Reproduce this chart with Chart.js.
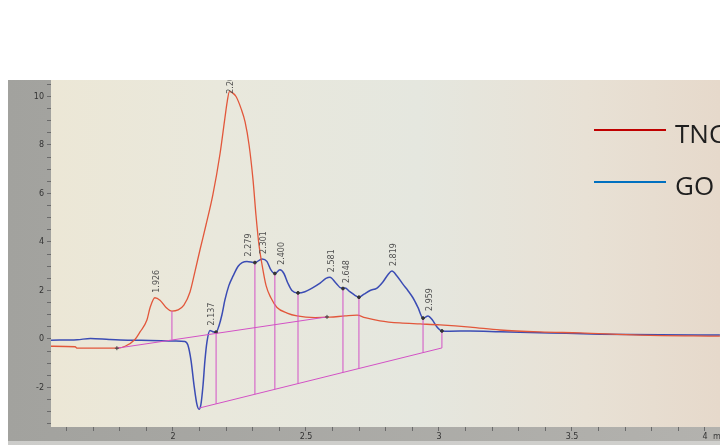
<!DOCTYPE html>
<html>
<head>
<meta charset="utf-8">
<script src="https://cdn.jsdelivr.net/npm/chart.js@4"></script>
<style>
html,body{margin:0;padding:0;background:#fff;overflow:hidden}
#wrap{position:relative;width:720px;height:445px}
canvas{display:block}
</style>
</head>
<body>
<div id="wrap"><canvas id="c" width="720" height="445"></canvas></div>
<script>
// Retention time (min) and detector signal for the TNC trace
const tncTime = [1.541, 1.632, 1.640, 1.726, 1.789, 1.820, 1.857, 1.876, 1.902, 1.914, 1.932, 1.951, 1.974, 1.996, 2.019, 2.041, 2.064, 2.083, 2.102, 2.124, 2.150, 2.177, 2.195, 2.204, 2.212, 2.224, 2.237, 2.256, 2.271, 2.286, 2.301, 2.312, 2.323, 2.335, 2.350, 2.368, 2.391, 2.429, 2.466, 2.534, 2.590, 2.647, 2.692, 2.722, 2.778, 2.853, 2.929, 3.004, 3.117, 3.229, 3.380, 3.530, 3.756, 4.056];
const tncSignal = [-0.30, -0.32, -0.38, -0.38, -0.38, -0.30, -0.02, 0.29, 0.78, 1.30, 1.70, 1.60, 1.30, 1.15, 1.20, 1.40, 1.94, 2.80, 3.70, 4.70, 5.95, 7.65, 9.10, 9.80, 10.20, 10.15, 10.00, 9.50, 8.95, 8.00, 6.55, 5.10, 3.90, 3.05, 2.20, 1.70, 1.30, 1.07, 0.95, 0.88, 0.90, 0.95, 0.98, 0.88, 0.75, 0.66, 0.62, 0.58, 0.49, 0.37, 0.29, 0.25, 0.16, 0.12];

// Retention time (min) and detector signal for the GO trace
const goTime = [1.541, 1.640, 1.690, 1.760, 1.830, 1.914, 2.008, 2.045, 2.056, 2.068, 2.079, 2.090, 2.098, 2.105, 2.113, 2.120, 2.128, 2.139, 2.150, 2.162, 2.173, 2.184, 2.195, 2.210, 2.226, 2.245, 2.260, 2.278, 2.308, 2.335, 2.353, 2.368, 2.383, 2.402, 2.417, 2.432, 2.447, 2.470, 2.496, 2.523, 2.553, 2.575, 2.590, 2.613, 2.632, 2.647, 2.665, 2.684, 2.699, 2.718, 2.741, 2.767, 2.789, 2.808, 2.823, 2.842, 2.865, 2.883, 2.902, 2.921, 2.940, 2.959, 2.974, 2.992, 3.011, 3.041, 3.117, 3.229, 3.417, 3.605, 3.831, 4.056];
const goSignal = [-0.05, -0.03, 0.02, -0.02, -0.05, -0.06, -0.08, -0.10, -0.25, -0.90, -1.90, -2.70, -2.90, -2.70, -1.90, -0.90, -0.10, 0.35, 0.30, 0.28, 0.55, 1.00, 1.60, 2.20, 2.60, 3.00, 3.15, 3.20, 3.15, 3.30, 3.20, 2.85, 2.70, 2.85, 2.70, 2.30, 2.00, 1.90, 1.95, 2.10, 2.30, 2.50, 2.55, 2.30, 2.10, 2.10, 1.95, 1.80, 1.72, 1.85, 2.00, 2.10, 2.35, 2.65, 2.80, 2.60, 2.25, 2.00, 1.70, 1.30, 0.86, 0.95, 0.80, 0.50, 0.33, 0.32, 0.33, 0.30, 0.25, 0.20, 0.17, 0.16];

// Peak apex annotations
const peakLabels = ['1.926', '2.209', '2.137', '2.279', '2.301', '2.400', '2.581', '2.648', '2.819', '2.959'];
const peakTime   = [1.932, 2.212, 2.139, 2.278, 2.335, 2.402, 2.590, 2.647, 2.823, 2.959];
const peakSignal = [1.70, 10.20, 0.35, 3.20, 3.30, 2.85, 2.55, 2.10, 2.80, 0.95];

// Integration baselines and peak drop lines
const tncBaseTime = [1.789, 2.579];
const tncBaseSignal = [-0.38, 0.91];
const tncDropTime = [1.996];
const tncDropBase = [-0.03];
const tncDropTop = [1.15];

const goBaseTime = [2.098, 3.011];
const goBaseSignal = [-2.85, -0.37];
const goDropTime = [2.162, 2.308, 2.383, 2.470, 2.639, 2.699, 2.940, 3.011];
const goDropBase = [-2.68, -2.28, -2.08, -1.84, -1.38, -1.22, -0.56, -0.37];
const goDropTop  = [0.28, 3.15, 2.70, 1.90, 2.08, 1.72, 0.86, 0.33];

// Axis tick labels
const xTickLabels = [2, 2.5, 3, 3.5, 4];
const yTickLabels = [-2, 0, 2, 4, 6, 8, 10];

// Legend entries
const seriesNames = ['TNC', 'GO'];
const legendColors = ['#c00000', '#0070c0'];

const zip = (xs, ys) => xs.map((x, i) => ({ x, y: ys[i] }));
function dropSegments(ts, lo, hi) {
  const out = [];
  ts.forEach((t, i) => { out.push({ x: t, y: lo[i] }, { x: t, y: hi[i] }, { x: t, y: null }); });
  return out;
}
const labelFor = (v, list) => {
  const hit = list.find(l => Math.abs(l - v) < 1e-6);
  return hit === undefined ? '' : String(hit);
};

const MAGENTA = '#d352c6';

const backdrop = {
  id: 'backdrop',
  beforeDraw(chart) {
    const { ctx, chartArea: a } = chart;
    ctx.save();
    ctx.fillStyle = '#ffffff';
    ctx.fillRect(0, 0, chart.width, chart.height);
    // monitor frame
    const g = ctx.createLinearGradient(8, 0, 720, 0);
    g.addColorStop(0, '#a2a29e');
    g.addColorStop(1, '#b3b2ae');
    ctx.fillStyle = g;
    ctx.fillRect(8, 80, 712, 365);
    ctx.fillStyle = 'rgba(215,215,212,0.8)';
    ctx.fillRect(8, 441, 712, 4);
    // plot surface
    const p = ctx.createLinearGradient(a.left, 0, a.right, 0);
    p.addColorStop(0, '#ece7d6');
    p.addColorStop(0.25, '#e9e8dc');
    p.addColorStop(0.55, '#e5e7df');
    p.addColorStop(0.8, '#e8e1d5');
    p.addColorStop(1, '#e6d9cb');
    ctx.fillStyle = p;
    ctx.fillRect(a.left, a.top, a.right - a.left, a.bottom - a.top);
    ctx.restore();
  }
};

const overlay = {
  id: 'overlay',
  afterDatasetsDraw(chart) {
    const { ctx, chartArea: a, scales } = chart;
    ctx.save();
    ctx.beginPath();
    ctx.rect(a.left, a.top, a.right - a.left, a.bottom - a.top);
    ctx.clip();
    ctx.fillStyle = '#505050';
    ctx.font = '8px "DejaVu Sans", sans-serif';
    ctx.textAlign = 'left';
    ctx.textBaseline = 'middle';
    peakLabels.forEach((txt, i) => {
      const px = scales.x.getPixelForValue(peakTime[i]);
      const py = scales.y.getPixelForValue(peakSignal[i]);
      // labels that would run off the top start lower, over the apex
      const start = Math.max(py - 5, a.top + ctx.measureText(txt).width * 0.6);
      ctx.save();
      ctx.translate(px + 2, Math.min(py + 3, start));
      ctx.rotate(-Math.PI / 2);
      ctx.fillText(txt, 0, 0);
      ctx.restore();
    });
    ctx.restore();
  },
  afterDraw(chart) {
    const { ctx, scales } = chart;
    ctx.save();
    // axis unit next to the last time tick
    ctx.fillStyle = '#3a3a3a';
    ctx.font = '8px "DejaVu Sans", sans-serif';
    ctx.textAlign = 'left';
    ctx.textBaseline = 'middle';
    ctx.fillText('min', scales.x.getPixelForValue(4) + 8, 437);
    // legend
    const rows = [130, 182];
    seriesNames.forEach((name, i) => {
      ctx.strokeStyle = legendColors[i];
      ctx.lineWidth = 2.2;
      ctx.beginPath();
      ctx.moveTo(594, rows[i]);
      ctx.lineTo(666, rows[i]);
      ctx.stroke();
      ctx.fillStyle = '#1e1e1e';
      ctx.font = '26px "Open Sans", "Noto Sans", sans-serif';
      ctx.textBaseline = 'alphabetic';
      ctx.fillText(name, 675, rows[i] + 13);
    });
    ctx.restore();
  }
};

new Chart(document.getElementById('c'), {
  type: 'line',
  data: {
    datasets: [
      {
        label: 'TNC baseline',
        data: zip(tncBaseTime, tncBaseSignal),
        borderColor: MAGENTA, borderWidth: 1,
        pointRadius: 2, pointStyle: 'cross', pointBorderColor: '#444', pointBorderWidth: 1
      },
      {
        label: 'TNC drops',
        data: dropSegments(tncDropTime, tncDropBase, tncDropTop),
        borderColor: MAGENTA, borderWidth: 1, pointRadius: 0, spanGaps: false
      },
      {
        label: 'GO baseline',
        data: zip(goBaseTime, goBaseSignal),
        borderColor: MAGENTA, borderWidth: 1, pointRadius: 0
      },
      {
        label: 'GO drops',
        data: dropSegments(goDropTime, goDropBase, goDropTop),
        borderColor: MAGENTA, borderWidth: 1, spanGaps: false,
        pointRadius: c => (c.dataIndex % 3 === 1 ? 1.4 : 0),
        pointBackgroundColor: '#333', pointBorderColor: '#333'
      },
      {
        label: seriesNames[0],
        data: zip(tncTime, tncSignal),
        borderColor: '#e2573b', borderWidth: 1.3, pointRadius: 0,
        cubicInterpolationMode: 'monotone'
      },
      {
        label: seriesNames[1],
        data: zip(goTime, goSignal),
        borderColor: '#3b4cb4', borderWidth: 1.5, pointRadius: 0,
        cubicInterpolationMode: 'monotone'
      }
    ]
  },
  options: {
    responsive: false,
    animation: false,
    devicePixelRatio: 1,
    layout: { autoPadding: false, padding: { left: 8, top: 80, right: 0, bottom: 0 } },
    plugins: { legend: { display: false }, tooltip: { enabled: false } },
    scales: {
      x: {
        type: 'linear',
        min: 1.5414, max: 4.0564,
        afterFit(s) { s.height = 18; s.paddingLeft = 0; s.paddingRight = 0; },
        border: { display: false },
        grid: { drawOnChartArea: false, drawTicks: true, tickLength: 4, color: '#6a6a6a' },
        ticks: {
          stepSize: 0.1, includeBounds: false, autoSkip: false, maxRotation: 0,
          padding: 1, color: '#333', font: { size: 8, family: 'DejaVu Sans' },
          callback: v => labelFor(v, xTickLabels)
        }
      },
      y: {
        type: 'linear',
        min: -3.63, max: 10.68,
        afterFit(s) { s.width = 43; s.paddingTop = 0; s.paddingBottom = 0; },
        border: { display: false },
        grid: { drawOnChartArea: false, drawTicks: true, tickLength: 4, color: '#6a6a6a' },
        ticks: {
          stepSize: 0.5, includeBounds: false, autoSkip: false,
          padding: 3, color: '#333', font: { size: 8, family: 'DejaVu Sans' },
          callback: v => labelFor(v, yTickLabels)
        }
      }
    }
  },
  plugins: [backdrop, overlay]
});
</script>
</body>
</html>
